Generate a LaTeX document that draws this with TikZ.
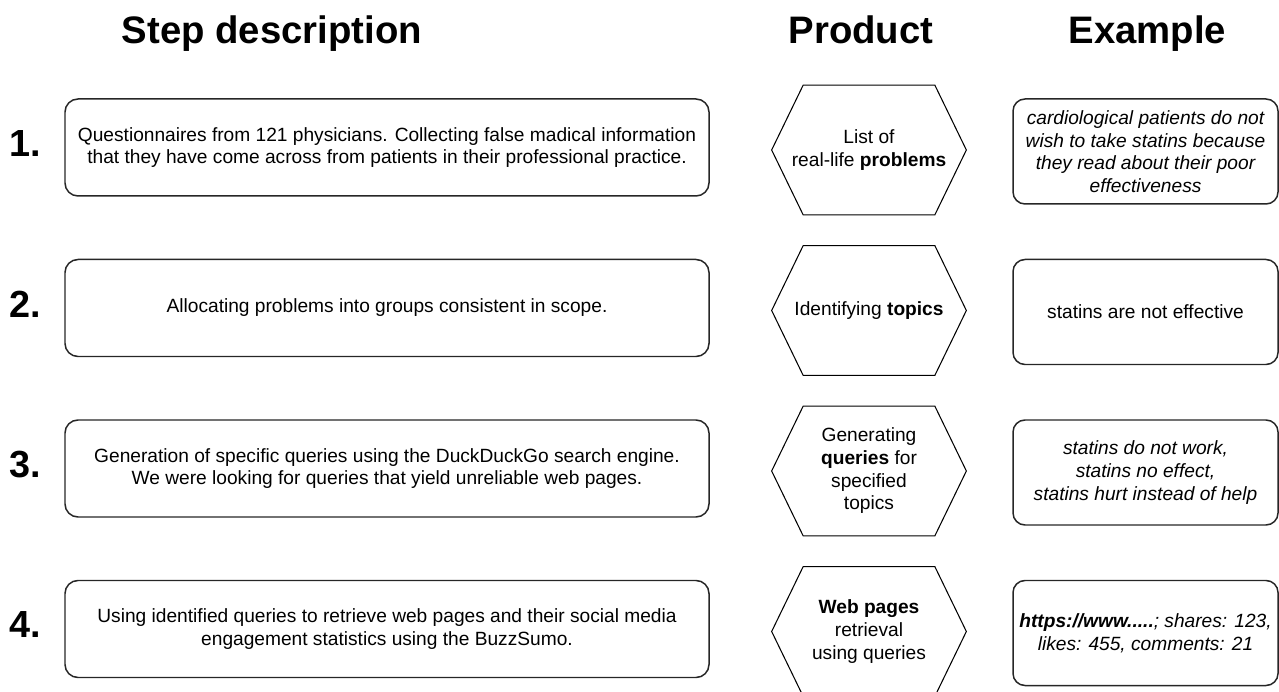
\documentclass[tikz,border=0pt]{standalone}
\usepackage{fontspec}
\setmainfont{Liberation Sans}

\begin{document}
\begin{tikzpicture}[node distance=3.21cm, every node/.style={font=\fontsize{10.9}{12.9}\selectfont}]
%
% Three columns: what was done in each step, what it produced, and a worked example
%
% Styles
\tikzstyle{heading} = [font=\fontsize{21.8}{26}\selectfont\bfseries, anchor=base]
\tikzstyle{number} = [font=\fontsize{21.5}{26}\selectfont\bfseries]
\tikzstyle{stepbox} = [rectangle, rounded corners=0.26cm, minimum width=12.88cm, minimum height=1.94cm, text centered, draw=black!85, line width=0.85pt, align=center]
\tikzstyle{product} = [rectangle, minimum width=3.88cm, minimum height=2.58cm, text centered, align=center, inner sep=0pt]
\tikzstyle{hexline} = [draw=black, line width=0.6pt]
\tikzstyle{example} = [rectangle, rounded corners=0.24cm, minimum width=5.3cm, minimum height=2.1cm, text centered, draw=black!85, line width=0.85pt, align=center, inner sep=2pt, font=\fontsize{10.9}{12.9}\selectfont\itshape]
\useasboundingbox (0,0) rectangle (25.58,-13.84);
% Headings
\node (head_step) [heading] at (5.44,-0.88) {Step description};
\node (head_product) [heading] at (17.22,-0.88) {Product};
\node (head_example) [heading] at (22.95,-0.88) {Example};
% Steps
\node (step1) [stepbox] at (7.74,-2.95) {Questionnaires from 121 physicians. Collecting false madical information\\that they have come across from patients in their professional practice.};
\node (step2) [stepbox, below of=step1] {Allocating problems into groups consistent in scope.};
\node (step3) [stepbox, below of=step2] {Generation of specific queries using the DuckDuckGo search engine.\\We were looking for queries that yield unreliable web pages.};
\node (step4) [stepbox, below of=step3] {Using identified queries to retrieve web pages and their social media\\engagement statistics using the BuzzSumo.};
% Step numbers
\node (num1) [number, left of=step1, node distance=7.24cm, yshift=0.08cm] {1.};
\node (num2) [number, left of=step2, node distance=7.24cm, yshift=0.08cm] {2.};
\node (num3) [number, left of=step3, node distance=7.24cm, yshift=0.08cm] {3.};
\node (num4) [number, left of=step4, node distance=7.24cm, yshift=0.08cm] {4.};
% Products
\node (prod1) [product, right of=step1, node distance=9.64cm, yshift=-0.05cm] {List of\\real-life \textbf{problems}};
\node (prod2) [product, below of=prod1] {Identifying \textbf{topics}};
\node (prod3) [product, below of=prod2] {Generating\\\textbf{queries} for\\specified\\topics};
\node (prod4) [product, below of=prod3] {\textbf{Web pages}\\retrieval\\using queries};
% hexagon outline round every product
\foreach \p in {prod1,prod2,prod3,prod4}
  \draw [hexline] (\p.west) -- ([xshift=0.63cm]\p.north west) -- ([xshift=-0.63cm]\p.north east) -- (\p.east) -- ([xshift=-0.63cm]\p.south east) -- ([xshift=0.63cm]\p.south west) -- cycle;
% Examples
\node (ex1) [example, right of=prod1, node distance=5.53cm, yshift=-0.03cm] {cardiological patients do not\\wish to take statins because\\they read about their poor\\effectiveness};
\node (ex2) [example, below of=ex1, font=\fontsize{10.9}{12.9}\selectfont\upshape] {statins are not effective};
\node (ex3) [example, below of=ex2] {statins do not work,\\statins no effect,\\statins hurt instead of help};
\node (ex4) [example, below of=ex3] {\textbf{https://www.....}; shares: 123,\\likes: 455, comments: 21};
\end{tikzpicture}
\end{document}
